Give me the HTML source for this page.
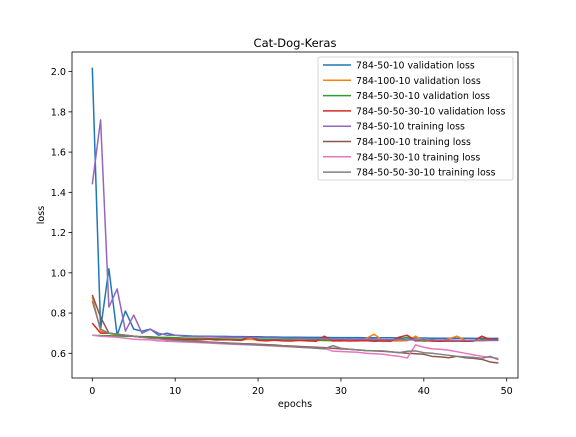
<!DOCTYPE html>
<html><head><meta charset="utf-8"><style>
body{margin:0;background:#fff;}
svg text{font-family:"DejaVu Sans","Liberation Sans",sans-serif;}
</style></head><body>
<svg id="chart" width="576" height="432" xmlns="http://www.w3.org/2000/svg">
<rect width="576" height="432" fill="#fff"/>
<g id="plot"></g>
</svg>
<script>
const seriesNames = ["784-50-10 validation loss","784-100-10 validation loss","784-50-30-10 validation loss","784-50-50-30-10 validation loss","784-50-10 training loss","784-100-10 training loss","784-50-30-10 training loss","784-50-50-30-10 training loss"];
const seriesColors = ["#1f77b4","#ff7f0e","#2ca02c","#d62728","#9467bd","#8c564b","#e377c2","#7f7f7f"];
const xTicks = [0,10,20,30,40,50];
const yTicks = [0.6,0.8,1.0,1.2,1.4,1.6,1.8,2.0];
const valA = [2.02,0.72,1.02,0.69,0.81,0.72,0.71,0.72,0.69,0.70,0.69,0.688,0.686,0.685,0.685,0.684,0.684,0.683,0.683,0.682,0.682,0.681,0.681,0.680,0.680,0.680,0.679,0.679,0.679,0.678,0.678,0.678,0.678,0.677,0.677,0.677,0.677,0.676,0.676,0.676,0.676,0.675,0.675,0.675,0.675,0.675,0.674,0.674,0.674,0.674];
const valB = [0.88,0.71,0.70,0.69,0.69,0.685,0.68,0.68,0.678,0.675,0.674,0.672,0.671,0.67,0.672,0.668,0.667,0.668,0.666,0.670,0.665,0.664,0.666,0.664,0.663,0.665,0.662,0.664,0.663,0.662,0.661,0.664,0.662,0.673,0.695,0.665,0.662,0.661,0.663,0.685,0.66,0.661,0.66,0.672,0.685,0.665,0.663,0.662,0.664,0.665];
const valC = [0.69,0.688,0.687,0.686,0.685,0.684,0.683,0.682,0.68,0.679,0.678,0.676,0.675,0.674,0.673,0.672,0.671,0.671,0.670,0.678,0.669,0.668,0.668,0.667,0.667,0.666,0.666,0.666,0.665,0.665,0.665,0.671,0.664,0.664,0.664,0.663,0.663,0.670,0.680,0.662,0.662,0.668,0.662,0.661,0.661,0.661,0.661,0.668,0.667,0.664];
const valD = [0.75,0.70,0.70,0.695,0.69,0.685,0.68,0.678,0.675,0.672,0.670,0.668,0.668,0.667,0.670,0.666,0.668,0.666,0.664,0.682,0.664,0.662,0.665,0.662,0.661,0.664,0.662,0.660,0.685,0.662,0.663,0.661,0.662,0.663,0.660,0.661,0.660,0.680,0.690,0.662,0.668,0.661,0.660,0.661,0.662,0.660,0.661,0.685,0.668,0.670];
const trA = [1.44,1.76,0.83,0.92,0.71,0.79,0.70,0.72,0.70,0.69,0.69,0.685,0.684,0.683,0.682,0.681,0.680,0.680,0.679,0.678,0.677,0.676,0.676,0.675,0.674,0.674,0.673,0.672,0.672,0.671,0.671,0.670,0.670,0.669,0.669,0.668,0.668,0.668,0.667,0.667,0.667,0.666,0.666,0.666,0.665,0.665,0.665,0.665,0.664,0.664];
const trB = [0.89,0.78,0.70,0.695,0.69,0.685,0.68,0.675,0.672,0.668,0.665,0.662,0.660,0.658,0.656,0.654,0.652,0.650,0.648,0.647,0.645,0.643,0.641,0.638,0.636,0.634,0.632,0.630,0.628,0.625,0.622,0.620,0.617,0.614,0.612,0.610,0.607,0.604,0.600,0.598,0.595,0.585,0.582,0.578,0.585,0.578,0.575,0.570,0.557,0.552];
const trC = [0.69,0.685,0.682,0.68,0.675,0.67,0.668,0.667,0.662,0.66,0.658,0.656,0.655,0.653,0.651,0.649,0.647,0.645,0.643,0.642,0.640,0.638,0.636,0.634,0.632,0.630,0.628,0.626,0.624,0.611,0.609,0.607,0.605,0.600,0.598,0.596,0.590,0.585,0.577,0.642,0.630,0.622,0.620,0.615,0.608,0.600,0.592,0.585,0.580,0.575];
const trD = [0.86,0.72,0.70,0.695,0.69,0.685,0.68,0.676,0.672,0.668,0.665,0.662,0.660,0.657,0.655,0.653,0.650,0.648,0.646,0.644,0.642,0.640,0.638,0.636,0.634,0.630,0.628,0.625,0.622,0.638,0.625,0.620,0.617,0.613,0.612,0.612,0.608,0.603,0.610,0.612,0.603,0.600,0.595,0.590,0.585,0.582,0.580,0.575,0.585,0.568];
const allSeries = [valA,valB,valC,valD,trA,trB,trC,trD];

const NS="http://www.w3.org/2000/svg";
const L=72,R=518,T=52,B=378;
const xs = v => 92.3 + v*8.288;
const ys = v => 353.3 - (v-0.6)*201.2;
const g=document.getElementById('plot');
function mk(tag,attrs,parent){const e=document.createElementNS(NS,tag);for(const k in attrs)e.setAttribute(k,attrs[k]);(parent||g).appendChild(e);return e;}

allSeries.forEach((s,i)=>{
  const p=mk('polyline',{points:s.map((v,j)=>xs(j).toFixed(2)+','+ys(v).toFixed(2)).join(' '),fill:'none',stroke:seriesColors[i],'stroke-width':1.5,'stroke-linejoin':'round'});
  
  
});
const fr=mk('rect',{x:L,y:T,width:R-L,height:B-T,fill:'none',stroke:'#000','stroke-width':0.8});


xTicks.forEach(t=>{
  const ln=mk('line',{x1:xs(t),x2:xs(t),y1:B,y2:B+3.5,stroke:'#000','stroke-width':0.8});
  
  
  const tx=mk('text',{x:xs(t),y:B+16,'font-size':9.6,'text-anchor':'middle',fill:'#000'});
  tx.textContent=t;
  
  
});
yTicks.forEach(t=>{
  const ln=mk('line',{x1:L-3.5,x2:L,y1:ys(t),y2:ys(t),stroke:'#000','stroke-width':0.8});
  
  
  const tx=mk('text',{x:L-6,y:ys(t)+3.5,'font-size':9.6,'text-anchor':'end',fill:'#000'});
  tx.textContent=t.toFixed(1);
  
  
});
const ttl=mk('text',{x:295,y:47,'font-size':11.5,'text-anchor':'middle'});ttl.textContent='Cat-Dog-Keras';


const xl=mk('text',{x:295,y:407,'font-size':9.6,'text-anchor':'middle'});xl.textContent='epochs';


const yl=mk('text',{x:44,y:215,'font-size':9.6,'text-anchor':'middle',transform:'rotate(-90 44 215)'});yl.textContent='loss';


const lg=mk('rect',{x:318,y:57,width:195,height:123,rx:2,fill:'#fff','fill-opacity':0.8,stroke:'#ccc','stroke-width':0.8});


seriesNames.forEach((n,i)=>{
  const y=65+i*15.3;
  const ln=mk('line',{x1:323,x2:351,y1:y,y2:y,stroke:seriesColors[i],'stroke-width':1.5});
  
  
  const tx=mk('text',{x:356,y:y+3.5,'font-size':9.4});tx.textContent=n;
  
  
});
</script>
</body></html>
